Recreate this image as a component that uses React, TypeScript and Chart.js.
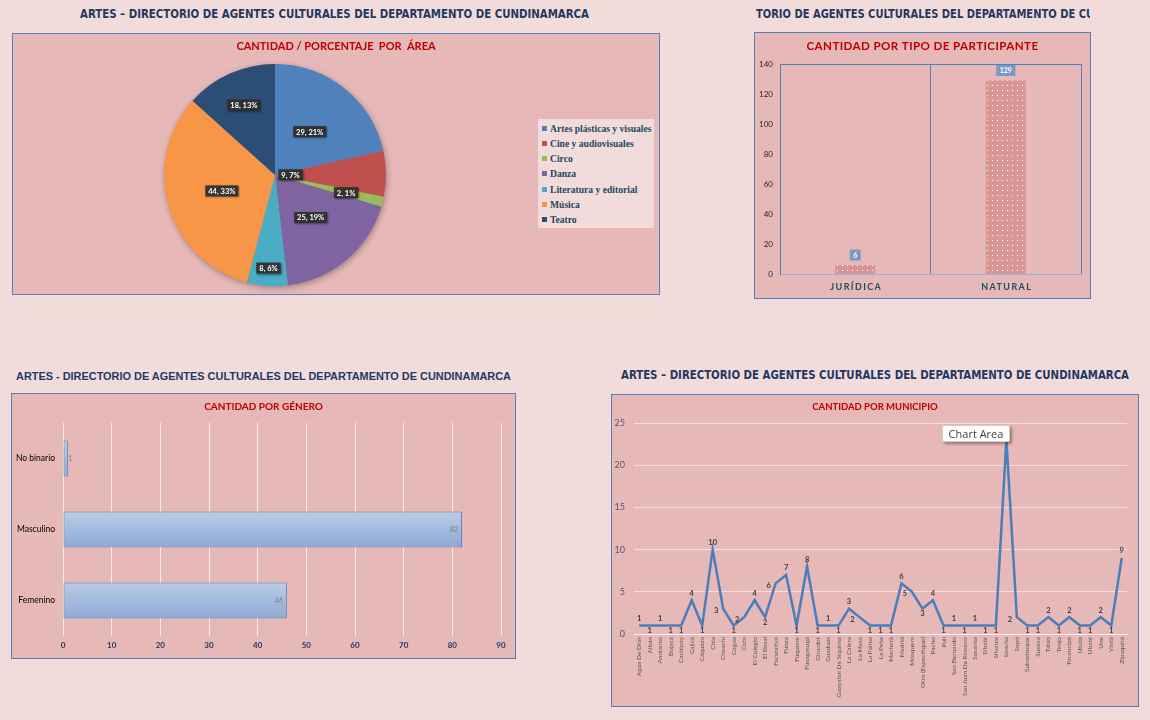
import React, { useEffect, useLayoutEffect, useRef } from 'react';
import { Chart, registerables } from 'chart.js';

Chart.register(...registerables);
Chart.defaults.font.family = 'Lato, "Open Sans", sans-serif';

// ---------- data ----------
const HEADER_TEXT = 'ARTES – DIRECTORIO DE AGENTES CULTURALES DEL DEPARTAMENTO DE CUNDINAMARCA';
const HEADER_TEXT_HYPHEN = 'ARTES - DIRECTORIO DE AGENTES CULTURALES DEL DEPARTAMENTO DE CUNDINAMARCA';
const HEADER_TEXT_CLIPPED = 'TORIO DE AGENTES CULTURALES DEL DEPARTAMENTO DE CU';

const AREA_TITLE = 'CANTIDAD / PORCENTAJE  POR  ÁREA';
const AREA_LABELS = [
  'Artes plásticas y visuales',
  'Cine y audiovisuales',
  'Circo',
  'Danza',
  'Literatura y editorial',
  'Música',
  'Teatro',
];
const AREA_VALUES = [29, 9, 2, 25, 8, 44, 18];

const TIPO_TITLE = 'CANTIDAD POR TIPO DE PARTICIPANTE';
const TIPO_LABELS = ['JURÍDICA', 'NATURAL'];
const TIPO_VALUES = [6, 129];

const GENERO_TITLE = 'CANTIDAD POR GÉNERO';
const GENERO_LABELS = ['No binario', 'Masculino', 'Femenino'];
const GENERO_VALUES = [1, 82, 46];

const MUNICIPIO_TITLE = 'CANTIDAD POR MUNICIPIO';
const MUNICIPIO_LABELS = [
  'Agua De Dios', 'Albán', 'Anolaima', 'Bojacá', 'Cachipay', 'Cajicá', 'Cáqueza', 'Chía',
  'Choachí', 'Cogua', 'Cota', 'El Colegio', 'El Rosal', 'Facatativá', 'Funza', 'Fúquene',
  'Fusagasugá', 'Girardot', 'Guaduas', 'Guayabal De Síquima', 'La Calera', 'La Mesa',
  'La Palma', 'La Peña', 'Machetá', 'Madrid', 'Mosquera', 'Otro (Especifique)', 'Pacho',
  'Pulí', 'San Bernardo', 'San Juan De Rioseco', 'Sasaima', 'Sibaté', 'Silvania', 'Soacha',
  'Sopó', 'Subachoque', 'Suesca', 'Tabio', 'Tenjo', 'Tocancipá', 'Ubalá', 'Ubaté', 'Une',
  'Viotá', 'Zipaquirá',
];
const MUNICIPIO_VALUES = [
  1, 1, 1, 1, 1, 4, 1, 10,
  3, 1, 2, 4, 2, 6, 7, 1,
  8, 1, 1, 1, 3, 2,
  1, 1, 1, 6, 5, 3, 4,
  1, 1, 1, 1, 1, 1, 23,
  2, 1, 1, 2, 1, 2, 1, 1, 2,
  1, 9,
];

// ---------- styles ----------
const PAGE_BG = '#F2DCDB';
const PANEL_BG = '#E6B8B7';
const PANEL_BORDER = '#4F81BD';
const HEADER_COLOR = '#1F3864';
const TITLE_RED = '#C00000';
const AREA_COLORS = ['#4F81BD', '#C0504D', '#9BBB59', '#8064A2', '#4BACC6', '#F79646', '#2C4D75'];
const PIE_LABEL_RADII = [0.5, 0.14, 0.66, 0.5, 0.84, 0.5, 0.69];

// ---------- plugins ----------
const panelTitlePlugin = {
  id: 'panelTitle',
  afterDraw(chart: any, _a: any, opts: any) {
    if (!opts || !opts.text) return;
    const ctx = chart.ctx;
    ctx.save();
    ctx.font = opts.font;
    ctx.fillStyle = opts.color || TITLE_RED;
    ctx.textAlign = 'center';
    ctx.textBaseline = 'middle';
    if (opts.letterSpacing) ctx.letterSpacing = opts.letterSpacing;
    ctx.fillText(opts.text, chart.width / 2 + (opts.dx || 0), opts.y);
    ctx.restore();
  },
};

const pieShadowPlugin = {
  id: 'pieShadow',
  beforeDatasetsDraw(chart: any) {
    const arc: any = chart.getDatasetMeta(0).data[0];
    if (!arc) return;
    const { x, y, outerRadius } = arc.getProps(['x', 'y', 'outerRadius'], true);
    const ctx = chart.ctx;
    ctx.save();
    ctx.shadowColor = 'rgba(0,0,0,0.35)';
    ctx.shadowBlur = 6;
    ctx.shadowOffsetX = 1;
    ctx.shadowOffsetY = 2;
    ctx.fillStyle = '#888';
    ctx.beginPath();
    ctx.arc(x, y, outerRadius - 0.5, 0, Math.PI * 2);
    ctx.fill();
    ctx.restore();
  },
};

const pieLabelPlugin = {
  id: 'pieLabels',
  afterDatasetsDraw(chart: any) {
    const meta = chart.getDatasetMeta(0);
    const data = chart.data.datasets[0].data as number[];
    const total = data.reduce((a, b) => a + b, 0);
    const ctx = chart.ctx;
    ctx.save();
    ctx.font = 'bold 7.5px Lato';
    ctx.textAlign = 'center';
    ctx.textBaseline = 'middle';
    meta.data.forEach((arc: any, i: number) => {
      const { x, y, startAngle, endAngle, outerRadius } = arc.getProps(
        ['x', 'y', 'startAngle', 'endAngle', 'outerRadius'],
        true
      );
      const mid = (startAngle + endAngle) / 2;
      const r = outerRadius * PIE_LABEL_RADII[i];
      const cx = x + Math.cos(mid) * r;
      const cy = y + Math.sin(mid) * r;
      const text = `${data[i]}, ${Math.round((data[i] / total) * 100)}%`;
      const w = ctx.measureText(text).width + 6;
      const h = 11;
      ctx.shadowColor = 'rgba(0,0,0,0.45)';
      ctx.shadowBlur = 2;
      ctx.shadowOffsetX = 1;
      ctx.shadowOffsetY = 1;
      ctx.fillStyle = 'rgba(48,48,48,0.92)';
      ctx.fillRect(cx - w / 2, cy - h / 2, w, h);
      ctx.shadowColor = 'transparent';
      ctx.fillStyle = '#FFFFFF';
      ctx.fillText(text, cx, cy + 0.5);
    });
    ctx.restore();
  },
};

const frameTopRightPlugin = {
  id: 'frameTopRight',
  afterDraw(chart: any) {
    const { left, right, top } = chart.chartArea;
    const ctx = chart.ctx;
    ctx.save();
    ctx.strokeStyle = PANEL_BORDER;
    ctx.lineWidth = 1;
    ctx.beginPath();
    ctx.moveTo(left, top + 0.5);
    ctx.lineTo(right, top + 0.5);
    ctx.stroke();
    ctx.restore();
  },
};

const barValueBoxPlugin = {
  id: 'barValueBox',
  afterDatasetsDraw(chart: any) {
    const meta = chart.getDatasetMeta(0);
    const data = chart.data.datasets[0].data as number[];
    const ctx = chart.ctx;
    ctx.save();
    ctx.font = 'bold 7px Lato';
    ctx.textAlign = 'center';
    ctx.textBaseline = 'middle';
    meta.data.forEach((bar: any, i: number) => {
      const text = String(data[i]);
      const w = ctx.measureText(text).width + 7;
      const h = 11;
      const cy = bar.y - 4 - h / 2 - 0.5;
      ctx.fillStyle = '#7F97C5';
      ctx.fillRect(bar.x - w / 2, cy - h / 2, w, h);
      ctx.fillStyle = '#FFFFFF';
      ctx.fillText(text, bar.x, cy + 0.5);
    });
    ctx.restore();
  },
};

const spacedXLabelsPlugin = {
  id: 'spacedXLabels',
  afterDraw(chart: any, _a: any, opts: any) {
    const scale = chart.scales.x;
    const ctx = chart.ctx;
    ctx.save();
    ctx.font = opts.font;
    ctx.fillStyle = opts.color;
    ctx.textAlign = 'center';
    ctx.textBaseline = 'middle';
    ctx.letterSpacing = opts.letterSpacing;
    (chart.data.labels as string[]).forEach((lab, i) => {
      ctx.fillText(lab, scale.getPixelForTick(i) + 1, opts.y);
    });
    ctx.restore();
  },
};

const hbarValuePlugin = {
  id: 'hbarValue',
  afterDatasetsDraw(chart: any) {
    const meta = chart.getDatasetMeta(0);
    const data = chart.data.datasets[0].data as number[];
    const ctx = chart.ctx;
    ctx.save();
    ctx.font = '7px Lato';
    ctx.fillStyle = '#7F7F7F';
    ctx.textBaseline = 'middle';
    meta.data.forEach((bar: any, i: number) => {
      const text = String(data[i]);
      if (bar.x - bar.base > 20) {
        ctx.textAlign = 'right';
        ctx.fillText(text, bar.x - 4, bar.y);
      } else {
        ctx.textAlign = 'left';
        ctx.fillText(text, bar.x + 0.5, bar.y);
      }
    });
    ctx.restore();
  },
};

const lineLabelPlugin = {
  id: 'lineLabels',
  afterDatasetsDraw(chart: any) {
    const meta = chart.getDatasetMeta(0);
    const data = chart.data.datasets[0].data as number[];
    const ctx = chart.ctx;
    ctx.save();
    ctx.font = 'bold 7.5px Lato';
    ctx.fillStyle = '#404040';
    ctx.textAlign = 'center';
    ctx.textBaseline = 'middle';
    meta.data.forEach((pt: any, i: number) => {
      const v = data[i];
      const prev = i > 0 ? data[i - 1] : v;
      const next = i < data.length - 1 ? data[i + 1] : v;
      let dx = 0;
      let dy = 0;
      if ((v > prev && v >= next) || (v >= prev && v > next)) dy = -7;
      else if ((v < prev && v <= next) || (v <= prev && v < next)) dy = 5;
      else if (v === prev && v === next) dy = i % 2 === 0 ? -7 : 5;
      else {
        dx = -7;
        dy = 2;
      }
      ctx.fillText(String(v), pt.x + dx, pt.y + dy);
    });
    ctx.restore();
  },
};

// ---------- helpers ----------
function makeDotPattern(ctx: CanvasRenderingContext2D) {
  const c = document.createElement('canvas');
  c.width = 5;
  c.height = 5;
  const g = c.getContext('2d')!;
  g.fillStyle = '#DA9694';
  g.fillRect(0, 0, 5, 5);
  g.fillStyle = '#FFFFFF';
  g.fillRect(2, 2, 1, 1);
  return ctx.createPattern(c, 'repeat');
}

function ChartCanvas({ width, height, make }: { width: number; height: number; make: (c: HTMLCanvasElement) => Chart }) {
  const ref = useRef<HTMLCanvasElement>(null);
  useEffect(() => {
    const chart = make(ref.current!);
    return () => chart.destroy();
  }, []);
  return <canvas ref={ref} width={width} height={height} style={{ display: 'block', width, height }} />;
}

function Panel({ left, top, width, height, children }: any) {
  return (
    <div
      style={{
        position: 'absolute',
        left,
        top,
        width,
        height,
        boxSizing: 'border-box',
        border: `1px solid ${PANEL_BORDER}`,
        background: PANEL_BG,
      }}
    >
      {children}
    </div>
  );
}

function FitText({ left, top, width, clip, text, font }: any) {
  const ref = useRef<HTMLSpanElement>(null);
  useLayoutEffect(() => {
    const el = ref.current!;
    el.style.transform = 'none';
    const w = el.getBoundingClientRect().width;
    el.style.transform = `scaleX(${width / w})`;
  }, []);
  return (
    <div
      style={{
        position: 'absolute',
        left,
        top,
        width: clip ?? width + 40,
        height: 20,
        overflow: clip ? 'hidden' : 'visible',
      }}
    >
      <span
        ref={ref}
        style={{
          display: 'inline-block',
          whiteSpace: 'nowrap',
          transformOrigin: '0 0',
          font,
          color: HEADER_COLOR,
          lineHeight: '20px',
        }}
      >
        {text}
      </span>
    </div>
  );
}

// ---------- charts ----------
const PIE_W = 646;
const PIE_H = 260;
function makePie(canvas: HTMLCanvasElement) {
  return new Chart(canvas, {
    type: 'pie',
    data: {
      labels: AREA_LABELS,
      datasets: [{ data: AREA_VALUES, backgroundColor: AREA_COLORS, borderWidth: 0 }],
    },
    options: {
      responsive: false,
      animation: false,
      layout: { padding: { top: 30, bottom: 8, left: 0, right: 122 } },
      plugins: {
        legend: { display: false },
        tooltip: { enabled: false },
        panelTitle: { text: AREA_TITLE, y: 12, font: 'bold 11px Lato' },
      } as any,
    },
    plugins: [panelTitlePlugin, pieShadowPlugin, pieLabelPlugin],
  });
}

const TIPO_W = 335;
const TIPO_H = 265;
function makeTipo(canvas: HTMLCanvasElement) {
  const pattern = makeDotPattern(canvas.getContext('2d')!);
  return new Chart(canvas, {
    type: 'bar',
    data: {
      labels: TIPO_LABELS,
      datasets: [
        {
          data: TIPO_VALUES,
          backgroundColor: pattern as any,
          borderWidth: 0,
          barPercentage: 0.266,
          categoryPercentage: 1,
        },
      ],
    },
    options: {
      responsive: false,
      animation: false,
      layout: { padding: { top: 31, right: 9, left: 0, bottom: 0 } },
      scales: {
        x: {
          grid: { offset: true, color: PANEL_BORDER, drawTicks: false },
          border: { color: '#8DB4E2' },
          ticks: { display: false },
          afterFit: (s: any) => {
            s.height = 24;
          },
        },
        y: {
          min: 0,
          max: 140,
          ticks: { stepSize: 20, color: '#262626', font: { size: 8 }, padding: 7 },
          grid: { display: false, drawTicks: false },
          border: { color: PANEL_BORDER },
          afterFit: (s: any) => {
            s.width = 25;
          },
        },
      },
      plugins: {
        legend: { display: false },
        tooltip: { enabled: false },
        panelTitle: { text: TIPO_TITLE, y: 13, font: 'bold 11.6px Lato', letterSpacing: '0.4px' },
        spacedXLabels: { y: 254, font: 'bold 9px Lato', color: '#1F4E5F', letterSpacing: '1.4px' },
      } as any,
    },
    plugins: [panelTitlePlugin, frameTopRightPlugin, barValueBoxPlugin, spacedXLabelsPlugin],
  });
}

const GEN_W = 503;
const GEN_H = 264;
function makeGenero(canvas: HTMLCanvasElement) {
  const BAR_PCT = 0.51;
  return new Chart(canvas, {
    type: 'bar',
    data: {
      labels: GENERO_LABELS,
      datasets: [
        {
          data: GENERO_VALUES,
          backgroundColor: (c: any) => {
            const chart = c.chart;
            const area = chart.chartArea;
            const ys = chart.scales.y;
            if (!area || !ys || c.dataIndex === undefined) return '#A7BFDE';
            const cy = ys.getPixelForValue(c.dataIndex);
            const h = (area.height / GENERO_LABELS.length) * BAR_PCT;
            const g = chart.ctx.createLinearGradient(0, cy - h / 2, 0, cy + h / 2);
            g.addColorStop(0, '#B9CDE5');
            g.addColorStop(1, '#8EA9D5');
            return g;
          },
          borderColor: '#4F81BD',
          borderWidth: 1,
          borderSkipped: false,
          barPercentage: BAR_PCT,
          categoryPercentage: 1,
        },
      ],
    },
    options: {
      indexAxis: 'y',
      responsive: false,
      animation: false,
      layout: { padding: { top: 29, right: 14, left: 0, bottom: 0 } },
      scales: {
        x: {
          min: 0,
          max: 90,
          ticks: { stepSize: 10, color: '#1F3864', font: { size: 8, weight: 'bold' }, padding: 5 },
          grid: { color: 'rgba(255,255,255,0.75)', drawTicks: false },
          border: { display: false },
          afterFit: (s: any) => {
            s.height = 22;
          },
        },
        y: {
          ticks: { color: '#000000', font: { size: 8.5 }, padding: 8 },
          grid: { display: false, drawTicks: false },
          border: { display: false },
          afterFit: (s: any) => {
            s.width = 51;
          },
        },
      },
      plugins: {
        legend: { display: false },
        tooltip: { enabled: false },
        panelTitle: { text: GENERO_TITLE, y: 13, font: 'bold 10px Lato' },
      } as any,
    },
    plugins: [panelTitlePlugin, hbarValuePlugin],
  });
}

const MUN_W = 526;
const MUN_H = 311;
function makeMunicipio(canvas: HTMLCanvasElement) {
  return new Chart(canvas, {
    type: 'line',
    data: {
      labels: MUNICIPIO_LABELS,
      datasets: [
        {
          data: MUNICIPIO_VALUES,
          borderColor: '#4A7EBB',
          borderWidth: 2.5,
          pointRadius: 0,
          tension: 0,
          fill: false,
        },
      ],
    },
    options: {
      responsive: false,
      animation: false,
      layout: { padding: { top: 28, right: 11, left: 0, bottom: 0 } },
      scales: {
        x: {
          offset: true,
          grid: { display: false, drawTicks: false },
          border: { color: 'rgba(255,255,255,0.6)' },
          ticks: {
            autoSkip: false,
            maxRotation: 90,
            minRotation: 90,
            font: { size: 6.5 },
            color: '#595959',
            padding: 3,
          },
          afterFit: (s: any) => {
            s.height = 72;
          },
        },
        y: {
          min: 0,
          max: 25,
          ticks: { stepSize: 5, color: '#595959', font: { size: 9 }, padding: 9 },
          grid: { color: 'rgba(255,255,255,0.55)', drawTicks: false },
          border: { display: false },
          afterFit: (s: any) => {
            s.width = 22;
          },
        },
      },
      plugins: {
        legend: { display: false },
        tooltip: { enabled: false },
        panelTitle: { text: MUNICIPIO_TITLE, y: 12, font: 'bold 9.5px Lato' },
      } as any,
    },
    plugins: [panelTitlePlugin, lineLabelPlugin],
  });
}

function PieLegend() {
  return (
    <div
      style={{
        position: 'absolute',
        left: 525,
        top: 85,
        width: 116,
        height: 109,
        background: PAGE_BG,
      }}
    >
      {AREA_LABELS.map((lab, i) => (
        <div
          key={lab}
          style={{
            position: 'absolute',
            left: 4,
            top: 9 + i * 15.3 - 7,
            height: 14,
            display: 'flex',
            alignItems: 'center',
            whiteSpace: 'nowrap',
            font: 'bold 9.6px "Liberation Serif", serif',
            color: '#23475F',
          }}
        >
          <span style={{ display: 'inline-block', width: 5, height: 5, background: AREA_COLORS[i], marginRight: 3 }} />
          {lab}
        </div>
      ))}
    </div>
  );
}

export default function App() {
  return (
    <div
      style={{
        position: 'absolute',
        left: 0,
        top: 0,
        width: 1150,
        height: 720,
        background: PAGE_BG,
        overflow: 'hidden',
      }}
    >
      <FitText left={80} top={4} width={509} text={HEADER_TEXT} font='bold 12px "DejaVu Sans Condensed", sans-serif' />
      <FitText
        left={756}
        top={4}
        width={338}
        clip={334}
        text={HEADER_TEXT_CLIPPED}
        font='bold 12px "DejaVu Sans Condensed", sans-serif'
      />
      <FitText left={16} top={366} width={495} text={HEADER_TEXT_HYPHEN} font='bold 10px "Liberation Sans", sans-serif' />
      <FitText left={621} top={365} width={508} text={HEADER_TEXT} font='bold 12px "DejaVu Sans Condensed", sans-serif' />

      <Panel left={12} top={33} width={PIE_W + 2} height={PIE_H + 2}>
        <ChartCanvas width={PIE_W} height={PIE_H} make={makePie} />
        <PieLegend />
      </Panel>

      <Panel left={754} top={32} width={TIPO_W + 2} height={TIPO_H + 2}>
        <ChartCanvas width={TIPO_W} height={TIPO_H} make={makeTipo} />
      </Panel>

      <Panel left={11} top={393} width={GEN_W + 2} height={GEN_H + 2}>
        <ChartCanvas width={GEN_W} height={GEN_H} make={makeGenero} />
      </Panel>

      <Panel left={611} top={394} width={MUN_W + 2} height={MUN_H + 2}>
        <ChartCanvas width={MUN_W} height={MUN_H} make={makeMunicipio} />
        <div
          style={{
            position: 'absolute',
            left: 330,
            top: 30,
            width: 68,
            height: 17,
            boxSizing: 'border-box',
            background: '#FFFFFF',
            border: '1px solid #D0D0D0',
            borderRadius: 2,
            boxShadow: '2px 2px 3px rgba(0,0,0,0.35)',
            font: '11px "Open Sans", sans-serif',
            color: '#404040',
            lineHeight: '15px',
            textAlign: 'center',
            whiteSpace: 'nowrap',
          }}
        >
          Chart Area
        </div>
      </Panel>
    </div>
  );
}
